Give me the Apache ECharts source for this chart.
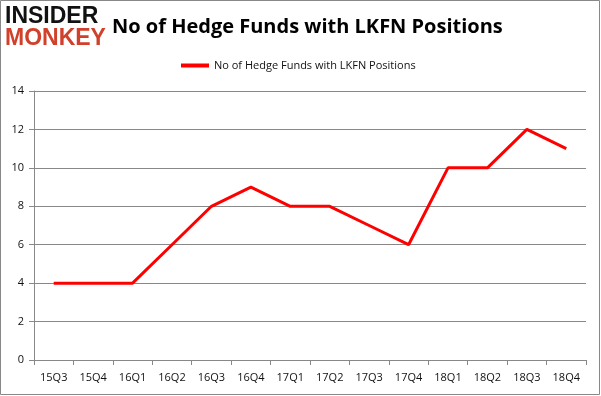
<!DOCTYPE html>
<html>

<head>
  <meta charset="UTF-8">
  <title>LKFN Hedge Funds</title>
  <style>
    html, body { margin: 0; padding: 0; background: #fff; }
  </style>
</head>

<body>
  <div id="main" style="width: 601px; height: 396px;"></div>
  <script src="https://cdn.jsdelivr.net/npm/echarts@6/dist/echarts.min.js"></script>
  <script>
    // quarters and fund counts
    const quarters = ['15Q3', '15Q4', '16Q1', '16Q2', '16Q3', '16Q4', '17Q1', '17Q2', '17Q3', '17Q4', '18Q1', '18Q2', '18Q3', '18Q4'];
    const fundCounts = [4, 4, 4, 6, 8, 9, 8, 8, 7, 6, 10, 10, 12, 11];
    const seriesName = 'No of Hedge Funds with LKFN Positions';

    const chart = echarts.init(document.getElementById('main'));
    const labelFont = 'Open Sans';

    chart.setOption({
      animation: false,
      graphic: [
        {
          type: 'rect',
          shape: { x: 0.5, y: 0.5, width: 599, height: 394 },
          style: { fill: 'none', stroke: '#888', lineWidth: 1 }
        },
        {
          type: 'text', left: 5, top: 5,
          style: { text: 'INSIDER', fill: '#111', font: '900 23px "Liberation Sans Narrow", "Liberation Sans"' }
        },
        {
          type: 'text', left: 5, top: 27,
          style: { text: 'MONKEY', fill: '#d1402b', font: '900 23px "Liberation Sans Narrow", "Liberation Sans"' }
        }
      ],
      title: {
        text: seriesName,
        left: 107,
        top: 12,
        textStyle: { fontFamily: labelFont, fontWeight: 'bold', fontSize: 20, color: '#000' }
      },
      legend: {
        top: 55,
        left: 176,
        itemWidth: 28,
        itemHeight: 4,
        icon: 'rect',
        textStyle: { fontFamily: labelFont, fontSize: 11, color: '#111' },
        data: [seriesName]
      },
      grid: { left: 34, right: 15, top: 91, bottom: 36 },
      xAxis: {
        type: 'category',
        data: quarters,
        boundaryGap: true,
        axisLine: { lineStyle: { color: '#888' } },
        axisTick: { show: true, alignWithLabel: false, length: 5, lineStyle: { color: '#888' } },
        axisLabel: { fontFamily: labelFont, fontSize: 11, color: '#111', margin: 12 }
      },
      yAxis: {
        type: 'value',
        min: 0,
        max: 14,
        interval: 2,
        axisLine: { show: true, lineStyle: { color: '#888' } },
        axisTick: { show: true, length: 5, lineStyle: { color: '#888' } },
        axisLabel: { fontFamily: labelFont, fontSize: 11, color: '#111', margin: 10 },
        splitLine: { lineStyle: { color: '#888' } }
      },
      series: [{
        name: seriesName,
        type: 'line',
        data: fundCounts,
        symbol: 'none',
        lineStyle: { color: '#ff0000', width: 3 },
        itemStyle: { color: '#ff0000' }
      }]
    });
  </script>
</body>

</html>
